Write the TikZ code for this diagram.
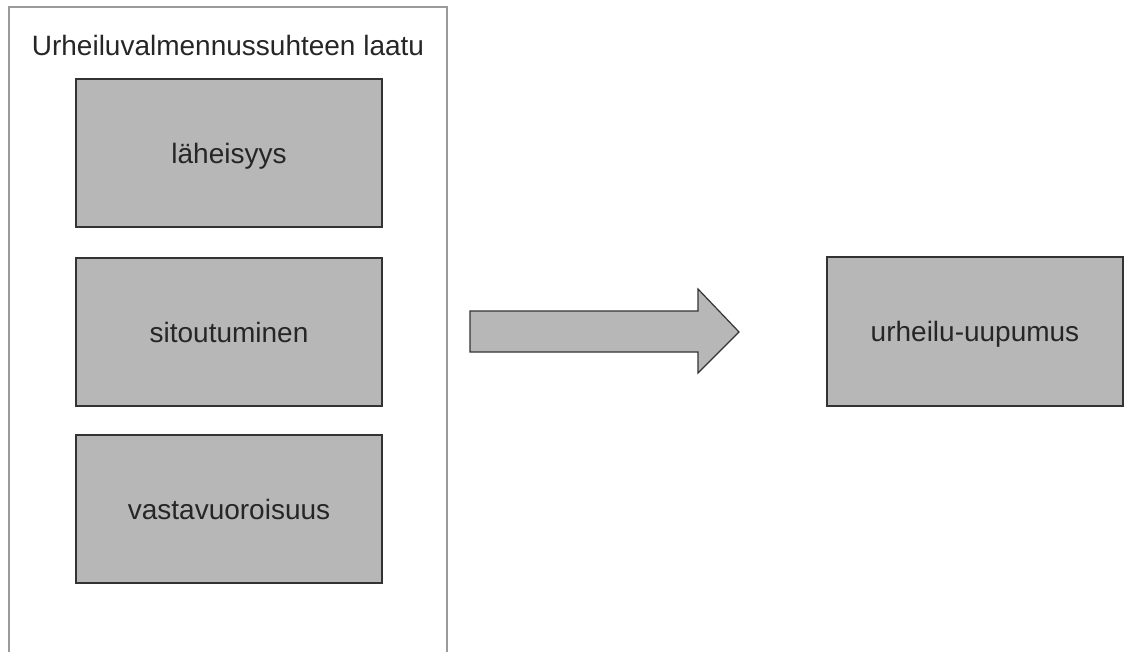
\documentclass[tikz,border=0pt]{standalone}
\usepackage{fontspec}
\setmainfont{Liberation Sans}
\usepackage{tikz}
\usetikzlibrary{positioning}
\definecolor{boxgray}{HTML}{B7B7B7}
\definecolor{framegray}{HTML}{9A9A9A}
\definecolor{edgegray}{HTML}{333333}

\begin{document}
\begin{tikzpicture}[x=0.5pt, y=-0.5pt,
        factor/.style={draw=edgegray, line width=0.75pt, fill=boxgray, minimum width=153pt, minimum height=74pt, inner sep=0pt, text depth=0pt, font=\fontsize{14}{17}\selectfont, text=black!85},
        bigarrow/.style={draw=edgegray, line width=0.6pt, fill=boxgray}
    ]
    \useasboundingbox (0, 0) rectangle (1129, 652);
    \draw[framegray, line width=1pt] (9, 652) -- (9, 7) -- (447, 7) -- (447, 652);
    \node[font=\fontsize{14}{17}\selectfont, text=black!85] (title) at (228, 45) {Urheiluvalmennussuhteen laatu};
    \node[factor] (laheisyys) at (229, 153) {läheisyys};
    \node[factor] (sitoutuminen) at (229, 332) {sitoutuminen};
    \node[factor] (vastavuoroisuus) at (229, 509) {vastavuoroisuus};
    \node[factor, minimum width=148pt, minimum height=74.5pt] (uupumus) at (975, 331.5) {urheilu-uupumus};
    \draw[bigarrow]
        (470, 311) -- (698, 311) -- (698, 289) -- (739, 332)
        -- (698, 373) -- (698, 352) -- (470, 352) -- cycle;
\end{tikzpicture}
\end{document}
